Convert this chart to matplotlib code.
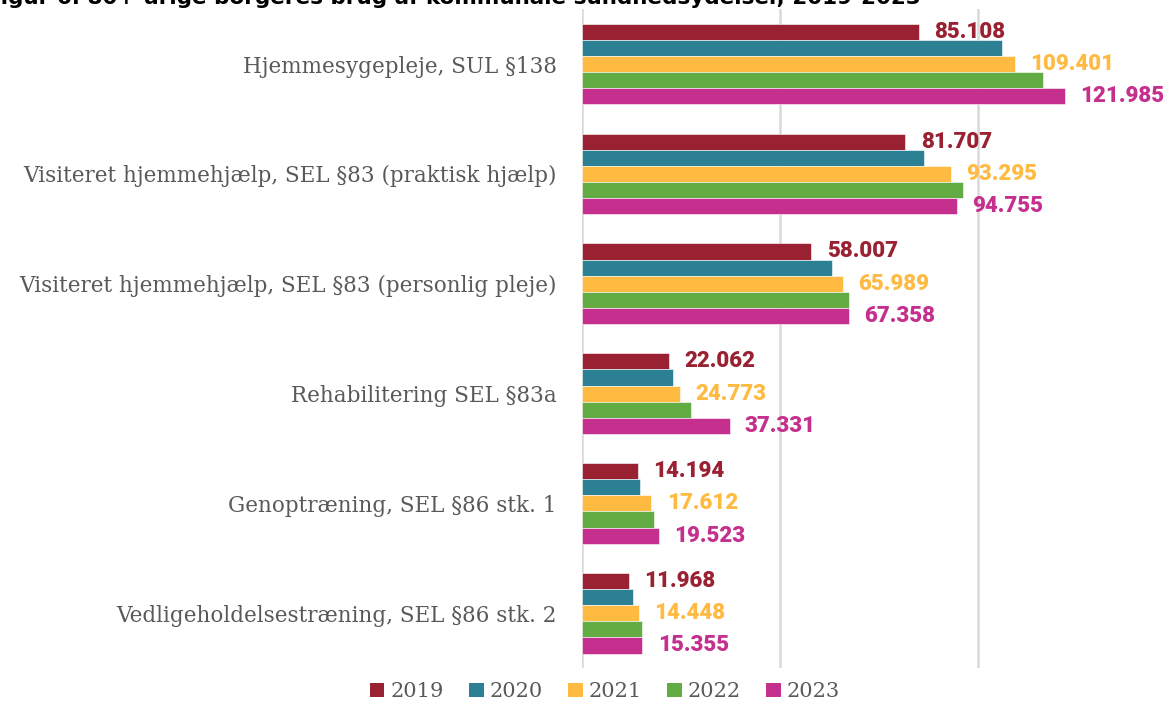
import numpy as np
import matplotlib.pyplot as plt
from matplotlib.patches import Patch

# Data
categories = [
    "Hjemmesygepleje, SUL §138",
    "Visiteret hjemmehjælp, SEL §83 (praktisk hjælp)",
    "Visiteret hjemmehjælp, SEL §83 (personlig pleje)",
    "Rehabilitering SEL §83a",
    "Genoptræning, SEL §86 stk. 1",
    "Vedligeholdelsestræning, SEL §86 stk. 2",
]
years = ["2019", "2020", "2021", "2022", "2023"]
v2019 = [85108, 81707, 58007, 22062, 14194, 11968]
v2020 = [106000, 86400, 63200, 23100, 14700, 13000]   # no labels, estimated
v2021 = [109401, 93295, 65989, 24773, 17612, 14448]
v2022 = [116500, 96300, 67600, 27700, 18300, 15200]   # no labels, estimated
v2023 = [121985, 94755, 67358, 37331, 19523, 15355]
series = [v2019, v2020, v2021, v2022, v2023]
labelled = [True, False, True, False, True]

colors = ["#9A2132", "#2B8094", "#FFBA42", "#63AB43", "#C52F8E"]
title = "Figur 6. 80+-årige borgeres brug af kommunale sundhedsydelser, 2019-2023"

def fmt(v):
    return f"{v:,}".replace(",", ".")

fig = plt.figure(figsize=(11.68, 7.10), dpi=100)
ax = fig.add_axes([0.498, 0.059, 0.502, 0.928])

y = np.arange(len(categories))
h = 0.147
for j, vals in enumerate(series):
    pos = y + (j - 2) * h
    ax.barh(pos, vals, height=h, color=colors[j], edgecolor="white", linewidth=0.4, zorder=3)
    if labelled[j]:
        for p, v in zip(pos, vals):
            ax.annotate(fmt(v), (v, p), xytext=(11, 0), textcoords="offset points",
                        va="center", ha="left", fontsize=16, fontweight="heavy",
                        family="Roboto", color=colors[j])

ax.set_ylim(len(categories) - 0.5, -0.5)
ax.set_xlim(0, 148000)
ax.set_xticks([0, 50000, 100000])
ax.set_xticklabels([])
ax.tick_params(axis="x", length=0)
ax.grid(axis="x", color="#d9d9d9", linewidth=1.8, zorder=0)
ax.set_yticks(y)
ax.set_yticklabels(categories, family="DejaVu Serif", fontsize=15.5, color="#595959")
ax.tick_params(axis="y", length=0, pad=18)
for s in ax.spines.values():
    s.set_visible(False)

handles = [Patch(facecolor=c, label=yr) for c, yr in zip(colors, years)]
leg = fig.legend(handles=handles, loc="lower center", bbox_to_anchor=(0.518, -0.014), ncol=5,
                 frameon=False, handlelength=0.7, handleheight=0.7, handletextpad=0.3,
                 columnspacing=1.2, prop={"family": "DejaVu Serif", "size": 15})
for t in leg.get_texts():
    t.set_color("#595959")

# title is cut off at the top edge in the reference
fig.text(-0.012, 1 - 3.5 / 710, title, ha="left", va="baseline", fontsize=15.5,
         fontweight="heavy", color="black")

fig.savefig("out.png", dpi=100)
